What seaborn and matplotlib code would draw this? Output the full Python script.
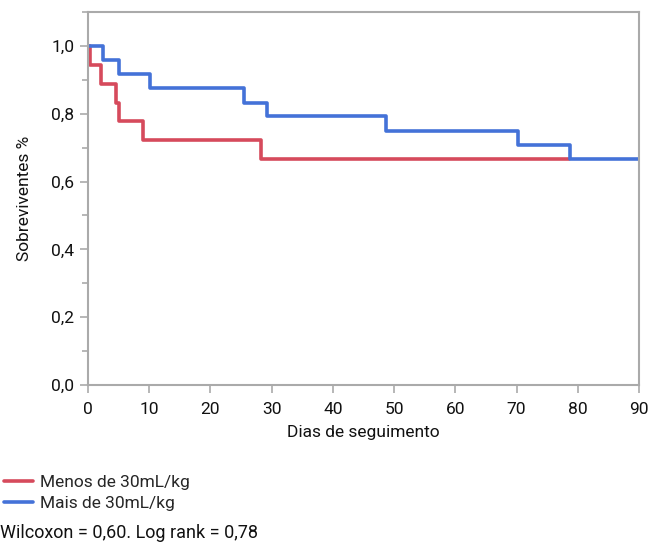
import matplotlib
matplotlib.use("Agg")
import matplotlib.pyplot as plt
import seaborn as sns
import pandas as pd
from matplotlib.lines import Line2D
from matplotlib.ticker import MultipleLocator, FuncFormatter

# Data
grupo_menos = "Menos de 30mL/kg"
grupo_mais = "Mais de 30mL/kg"
dias_menos = [0, 0.3, 2.1, 4.6, 5.1, 9.0, 28.3, 78.5]
sobrev_menos = [1.0, 0.944, 0.889, 0.833, 0.778, 0.722, 0.667, 0.667]
dias_mais = [0, 2.5, 5.1, 10.1, 25.5, 29.2, 48.7, 70.3, 78.8, 90]
sobrev_mais = [1.0, 0.958, 0.917, 0.875, 0.833, 0.792, 0.75, 0.708, 0.667, 0.667]
x_ticks = [0, 10, 20, 30, 40, 50, 60, 70, 80, 90]
y_ticks = [0.0, 0.2, 0.4, 0.6, 0.8, 1.0]

cor_menos = "#d64a5c"
cor_mais = "#4472d8"

df = pd.concat([
    pd.DataFrame({"dia": dias_menos, "sobrev": sobrev_menos, "grupo": grupo_menos}),
    pd.DataFrame({"dia": dias_mais, "sobrev": sobrev_mais, "grupo": grupo_mais}),
], ignore_index=True)

sns.set_style("white")
plt.rcParams["font.family"] = ["Roboto", "DejaVu Sans"]

fig = plt.figure(figsize=(6.52, 5.45), dpi=100)
ax = fig.add_axes([0.135, 0.2936, 0.845, 0.6844])

sns.lineplot(data=df, x="dia", y="sobrev", hue="grupo",
             hue_order=[grupo_menos, grupo_mais],
             palette={grupo_menos: cor_menos, grupo_mais: cor_mais},
             drawstyle="steps-post", estimator=None, linewidth=2.6,
             legend=False, ax=ax)

ax.set_xlim(0, 90)
ax.set_ylim(0, 1.1)
ax.set_xticks(x_ticks)
ax.set_yticks(y_ticks)
ax.yaxis.set_minor_locator(MultipleLocator(0.1))
ax.yaxis.set_major_formatter(FuncFormatter(lambda v, p: f"{v:.1f}".replace(".", ",")))
ax.tick_params(axis="both", which="major", direction="out", length=6, width=1.2,
               color="#aaaaaa", labelsize=12.5, labelcolor="#111111")
ax.tick_params(axis="x", which="major", pad=6)
ax.tick_params(axis="y", which="major", pad=4)
ax.tick_params(axis="y", which="minor", direction="out", length=4, width=1.2,
               color="#aaaaaa", left=True)
ax.tick_params(axis="x", bottom=True)
ax.tick_params(axis="y", left=True)
for s in ax.spines.values():
    s.set_color("#aaaaaa")
    s.set_linewidth(1.5)
    s.set_visible(True)

ax.set_xlabel("Dias de seguimento", fontsize=12.5, color="#111111", labelpad=6)
ax.set_ylabel("Sobreviventes %", fontsize=12.5, color="#111111", labelpad=14)

handles = [Line2D([], [], color=cor_menos, linewidth=2.6),
           Line2D([], [], color=cor_mais, linewidth=2.6)]
fig.legend(handles, [grupo_menos, grupo_mais], loc="upper left",
           bbox_to_anchor=(0.006, 0.128), frameon=False, fontsize=12.5,
           handlelength=1.7, handletextpad=0.35, labelspacing=0.3, borderpad=0,
           borderaxespad=0)

fig.text(0.0, 0.006, "Wilcoxon = 0,60. Log rank = 0,78", fontsize=13,
         color="#111111", ha="left", va="bottom")

fig.savefig("out.png", dpi=100)
